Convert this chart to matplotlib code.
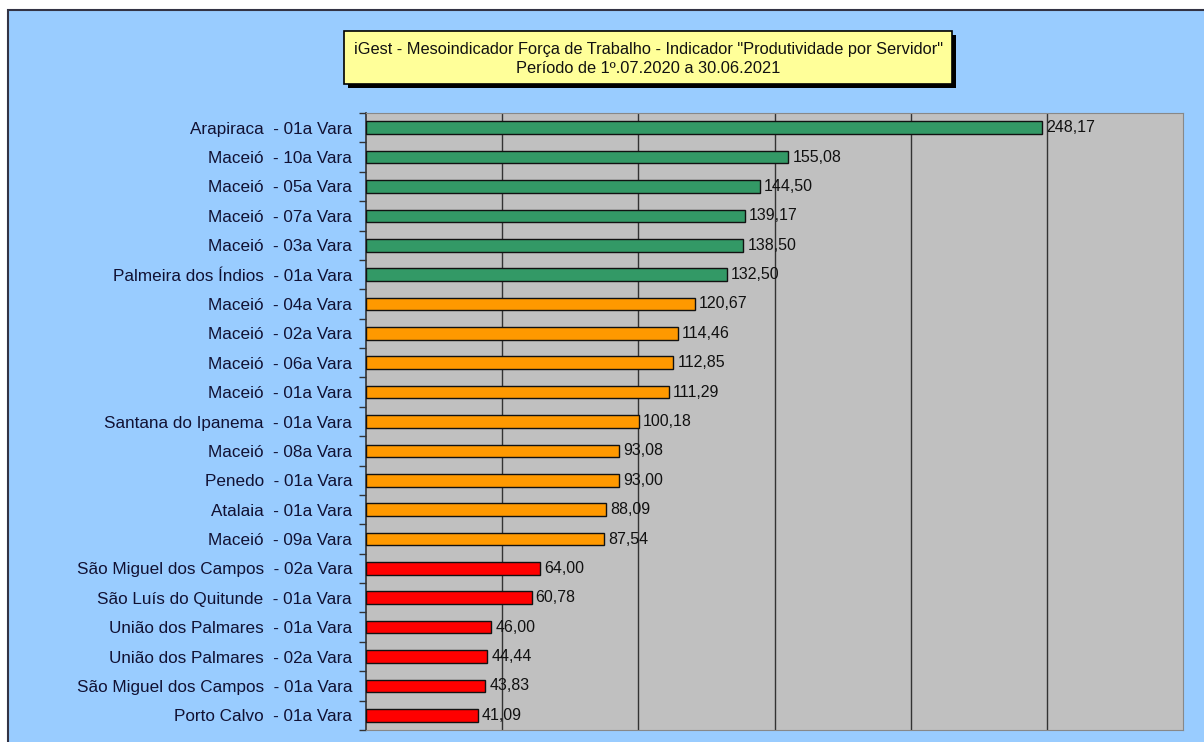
import numpy as np
import matplotlib
matplotlib.use("Agg")
import matplotlib.pyplot as plt
from matplotlib.patches import Rectangle

plt.rcParams['font.family'] = ['Liberation Sans', 'DejaVu Sans']

labels = ["Arapiraca  - 01a Vara", "Maceió  - 10a Vara", "Maceió  - 05a Vara",
          "Maceió  - 07a Vara", "Maceió  - 03a Vara", "Palmeira dos Índios  - 01a Vara",
          "Maceió  - 04a Vara", "Maceió  - 02a Vara", "Maceió  - 06a Vara",
          "Maceió  - 01a Vara", "Santana do Ipanema  - 01a Vara", "Maceió  - 08a Vara",
          "Penedo  - 01a Vara", "Atalaia  - 01a Vara", "Maceió  - 09a Vara",
          "São Miguel dos Campos  - 02a Vara", "São Luís do Quitunde  - 01a Vara",
          "União dos Palmares  - 01a Vara", "União dos Palmares  - 02a Vara",
          "São Miguel dos Campos  - 01a Vara", "Porto Calvo  - 01a Vara"]
values = [248.17, 155.08, 144.50, 139.17, 138.50, 132.50,
          120.67, 114.46, 112.85, 111.29, 100.18, 93.08, 93.00, 88.09, 87.54,
          64.00, 60.78, 46.00, 44.44, 43.83, 41.09]
groups = ["g"] * 6 + ["o"] * 9 + ["r"] * 6
group_colors = {"g": "#339966", "o": "#FF9900", "r": "#FF0000"}

title = 'iGest - Mesoindicador Força de Trabalho - Indicador "Produtividade por Servidor"\nPeríodo de 1º.07.2020 a 30.06.2021'

fig = plt.figure(figsize=(12.04, 7.42), dpi=100)
fig.patch.set_facecolor("white")

# blue chart area, border only shows on top and left
bg = Rectangle((8 / 1204, -0.1), 1.0, 1.1 - 10 / 742, transform=fig.transFigure,
               facecolor="#99CCFF", edgecolor="#333344", linewidth=1.5, zorder=-10)
fig.patches.append(bg)

ax = fig.add_axes([366 / 1204, 1 - 730 / 742, (1183 - 366) / 1204, (730 - 113) / 742])
ax.set_facecolor("#C0C0C0")

y = np.arange(len(labels))
cols = [group_colors[g] for g in groups]
ax.barh(y, values, height=0.43, color=cols, edgecolor="#111111", linewidth=1.0, zorder=3)

for yi, v in zip(y, values):
    ax.annotate("{0:.2f}".format(v).replace(".", ","), (v, yi), xytext=(3, 0),
                textcoords="offset points", va="center", ha="left",
                fontsize=11.5, color="#111111", zorder=4)

ax.set_xlim(0, 300)
ax.set_ylim(len(labels) - 0.5, -0.5)
ax.set_xticks(np.arange(50, 300, 50))
ax.xaxis.grid(True, color="#333333", linewidth=1.0, zorder=0)
ax.tick_params(axis="x", length=0, labelbottom=False)

ax.set_yticks(y)
ax.set_yticklabels(labels, fontsize=12.3, color="#111133")
ax.tick_params(axis="y", which="major", length=0, pad=10)
ax.set_yticks(np.arange(-0.5, len(labels), 1), minor=True)
ax.tick_params(axis="y", which="minor", length=5, width=1.0, color="#333333")

for side in ["top", "right", "bottom"]:
    ax.spines[side].set_color("#888888")
ax.spines["left"].set_color("#333333")
ax.spines["left"].set_linewidth(1.2)

# title box with shadow
shadow = Rectangle((348 / 1204, 1 - 88 / 742), (952 - 344) / 1204, (84 - 31) / 742,
                   transform=fig.transFigure, facecolor="black", edgecolor="none", zorder=1)
fig.patches.append(shadow)
box = Rectangle((344 / 1204, 1 - 84 / 742), (952 - 344) / 1204, (84 - 31) / 742,
                transform=fig.transFigure, facecolor="#FFFF99", edgecolor="black",
                linewidth=1.2, zorder=2)
fig.patches.append(box)
fig.text((344 + 952) / 2 / 1204, 1 - 59 / 742, title, ha="center", va="center",
         fontsize=11.8, color="#111111", linespacing=1.4, zorder=3)

fig.savefig("out.png", dpi=100, facecolor=fig.get_facecolor())
